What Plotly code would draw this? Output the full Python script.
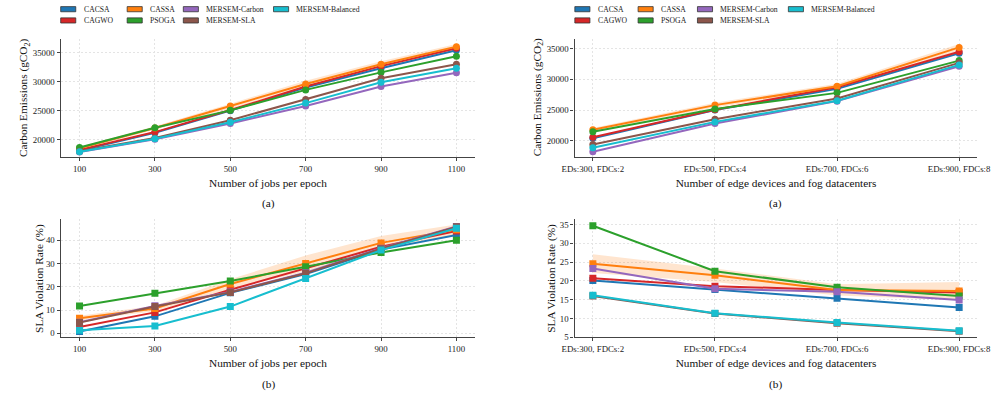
import plotly.graph_objects as go

W, H = 1008, 402
FONT = "Liberation Serif, Times New Roman, Times, serif"

# ---------------- data ----------------
jobs = [100, 300, 500, 700, 900, 1100]
env_labels = ["EDs:300, FDCs:2", "EDs:500, FDCs:4", "EDs:700, FDCs:6", "EDs:900, FDCs:8"]
series_names = ["CACSA", "CAGWO", "CASSA", "PSOGA", "MERSEM-Carbon", "MERSEM-SLA", "MERSEM-Balanced"]
series_colors = ["#1f77b4", "#d62728", "#ff7f0e", "#2ca02c", "#9467bd", "#8c564b", "#17becf"]

carbon_jobs = {
    "CACSA":           [18100, 21200, 25000, 29000, 32300, 35400],
    "CAGWO":           [18230, 21300, 25100, 29150, 32680, 35750],
    "CASSA":           [18500, 22000, 25800, 29600, 33000, 36040],
    "PSOGA":           [18640, 22050, 25050, 28580, 31600, 34380],
    "MERSEM-Carbon":   [17880, 20050, 22780, 25800, 29150, 31530],
    "MERSEM-SLA":      [18000, 20270, 23350, 26930, 30580, 33020],
    "MERSEM-Balanced": [17900, 20170, 23000, 26300, 29890, 32330],
}
carbon_jobs_cassa_band = [250, 300, 400, 550, 500, 450]

carbon_env = {
    "CACSA":           [20400, 25000, 28450, 34260],
    "CAGWO":           [20550, 25050, 28710, 34520],
    "CASSA":           [21770, 25800, 28870, 35230],
    "PSOGA":           [21450, 25160, 27800, 33070],
    "MERSEM-Carbon":   [18180, 22800, 26450, 32160],
    "MERSEM-SLA":      [19360, 23500, 26890, 32700],
    "MERSEM-Balanced": [18820, 23060, 26520, 32370],
}
carbon_env_cassa_band = [300, 400, 400, 550]

sla_jobs = {
    "CACSA":           [0.8, 7.3, 17.4, 25.5, 36.0, 42.3],
    "CAGWO":           [2.7, 9.0, 18.7, 27.9, 37.2, 44.0],
    "CASSA":           [6.5, 10.7, 21.2, 30.0, 38.9, 44.6],
    "PSOGA":           [11.7, 17.2, 22.5, 28.6, 34.8, 40.0],
    "MERSEM-Carbon":   [4.8, 11.8, 17.8, 26.1, 36.6, 46.0],
    "MERSEM-SLA":      [4.6, 11.5, 17.6, 25.8, 36.4, 45.8],
    "MERSEM-Balanced": [1.3, 3.1, 11.5, 23.6, 35.8, 45.2],
}
sla_jobs_cassa_band = [1.0, 1.2, 2.0, 3.5, 3.0, 2.2]

sla_env = {
    "CACSA":           [20.1, 17.7, 15.4, 12.9],
    "CAGWO":           [20.7, 18.6, 17.6, 16.9],
    "CASSA":           [24.6, 21.5, 17.6, 17.3],
    "PSOGA":           [34.7, 22.6, 18.3, 16.0],
    "MERSEM-Carbon":   [23.3, 17.9, 17.1, 14.9],
    "MERSEM-SLA":      [16.0, 11.3, 8.7, 6.6],
    "MERSEM-Balanced": [16.2, 11.4, 8.9, 6.7],
}
sla_env_cassa_band = [2.5, 1.8, 1.5, 2.4]

# ---------------- helpers ----------------
def fx(p):
    return p / W

def fy(p):
    return 1 - p / H

fig = go.Figure()

panels = [
    (carbon_jobs, carbon_jobs_cassa_band, jobs, "x", "y", "circle"),
    (carbon_env, carbon_env_cassa_band, env_labels, "x2", "y2", "circle"),
    (sla_jobs, sla_jobs_cassa_band, jobs, "x3", "y3", "square"),
    (sla_env, sla_env_cassa_band, env_labels, "x4", "y4", "square"),
]

for data, band, xs, xa, ya, sym in panels:
    mid = data["CASSA"]
    upper = [m + b for m, b in zip(mid, band)]
    lower = [m - b for m, b in zip(mid, band)]
    fig.add_trace(go.Scatter(
        x=list(xs) + list(xs)[::-1], y=upper + lower[::-1],
        fill="toself", fillcolor="rgba(255,127,14,0.2)", line=dict(width=0),
        mode="lines", hoverinfo="skip", showlegend=False, xaxis=xa, yaxis=ya))
    for name, col in zip(series_names, series_colors):
        fig.add_trace(go.Scatter(
            x=xs, y=data[name], name=name, mode="lines+markers",
            line=dict(color=col, width=2),
            marker=dict(symbol=sym, size=7, color=col),
            showlegend=False, xaxis=xa, yaxis=ya))

# ---------------- axes ----------------
L1, R1 = 49, 475
L2, R2 = 577, 991
T_top, B_top = 39, 159
T_bot, B_bot = 221.7, 341.5

axis_common = dict(
    showline=True, linecolor="#444", linewidth=1.3,
    ticks="outside", ticklen=3, tickwidth=1, tickcolor="#444",
    showgrid=True, gridcolor="#e4e4e4", griddash="2px,2px", gridwidth=0.8,
    zeroline=False, mirror=False,
    tickfont=dict(family=FONT, size=8.8, color="#222"),
    title_font=dict(family=FONT, size=11.3, color="#111"),
)

fig.update_layout(
    xaxis=dict(domain=[fx(L1), fx(R1)], anchor="y", range=[50, 1150],
               tickvals=jobs, tickformat="d",
               title=dict(text="Number of jobs per epoch", standoff=6), **axis_common),
    yaxis=dict(domain=[fy(B_top), fy(T_top)], anchor="x", range=[17000, 37440],
               tickvals=[20000, 25000, 30000, 35000], tickformat="d", **axis_common),
    xaxis2=dict(domain=[fx(L2), fx(R2)], anchor="y2", type="category", range=[-0.15, 3.15],
                title=dict(text="Number of edge devices and fog datacenters", standoff=6), **axis_common),
    yaxis2=dict(domain=[fy(B_top), fy(T_top)], anchor="x2", range=[17320, 36680],
                tickvals=[20000, 25000, 30000, 35000], tickformat="d", **axis_common),
    xaxis3=dict(domain=[fx(L1), fx(R1)], anchor="y3", range=[50, 1150],
                tickvals=jobs, tickformat="d",
                title=dict(text="Number of jobs per epoch", standoff=6), **axis_common),
    yaxis3=dict(domain=[fy(B_bot), fy(T_bot)], anchor="x3", range=[-1.7, 49.2],
                tickvals=[0, 10, 20, 30, 40], tickformat="d", **axis_common),
    xaxis4=dict(domain=[fx(L2), fx(R2)], anchor="y4", type="category", range=[-0.15, 3.15],
                title=dict(text="Number of edge devices and fog datacenters", standoff=6), **axis_common),
    yaxis4=dict(domain=[fy(B_bot), fy(T_bot)], anchor="x4", range=[5, 36.5],
                tickvals=[5, 10, 15, 20, 25, 30, 35], tickformat="d", **axis_common),
)

# ---------------- y-axis titles (placed precisely) ----------------
ytitles = [("Carbon Emissions (gCO<sub>2</sub>)", 11.5, (T_top + B_top) / 2),
           ("Carbon Emissions (gCO<sub>2</sub>)", 539, (T_top + B_top) / 2),
           ("SLA Violation Rate (%)", 26.5, (T_bot + B_bot) / 2),
           ("SLA Violation Rate (%)", 552.5, (T_bot + B_bot) / 2)]
for txt, cx, cy in ytitles:
    fig.add_annotation(text=txt, x=fx(cx), y=fy(cy), xref="paper", yref="paper",
                       showarrow=False, xanchor="center", yanchor="middle", textangle=-90,
                       font=dict(family=FONT, size=11.3, color="#111"))

# ---------------- captions ----------------
captions = [("(a)", (L1 + R1) / 2 + 1, 206), ("(b)", (L1 + R1) / 2 + 1, 389.5),
            ("(a)", (L2 + R2) / 2 - 1, 206), ("(b)", (L2 + R2) / 2 - 1, 389.5)]
for txt, cx, cy in captions:
    fig.add_annotation(text=txt, x=fx(cx), y=fy(cy), xref="paper", yref="paper",
                       showarrow=False, xanchor="center", yanchor="middle",
                       font=dict(family=FONT, size=11.3, color="#111"))

# ---------------- legends (matplotlib-style patches) ----------------
legend_layouts = [
    [49, 117.3, 175, 267.7],
    [577.3, 642.3, 703.3, 796.7],
]
legend_order = [("CACSA", 0, 0), ("CAGWO", 0, 1), ("CASSA", 1, 0), ("PSOGA", 1, 1),
                ("MERSEM-Carbon", 2, 0), ("MERSEM-SLA", 2, 1), ("MERSEM-Balanced", 3, 0)]
row_y = [9.3, 20.7]
for cols in legend_layouts:
    for name, c, r in legend_order:
        col = series_colors[series_names.index(name)]
        x0 = cols[c]
        yc = row_y[r]
        fig.add_shape(type="rect", xref="paper", yref="paper",
                      x0=fx(x0), x1=fx(x0 + 15.5), y0=fy(yc + 2.6), y1=fy(yc - 2.6),
                      fillcolor=col, line=dict(color="#333", width=0.8))
        fig.add_annotation(text=name, x=fx(x0 + 21.5), y=fy(yc), xref="paper", yref="paper",
                           showarrow=False, xanchor="left", yanchor="middle",
                           font=dict(family=FONT, size=7.7, color="#222"))

fig.update_layout(
    width=W, height=H, margin=dict(l=0, r=0, t=0, b=0),
    paper_bgcolor="white", plot_bgcolor="white",
    font=dict(family=FONT, color="#222"),
    showlegend=False,
)

fig.write_html("out.html")
